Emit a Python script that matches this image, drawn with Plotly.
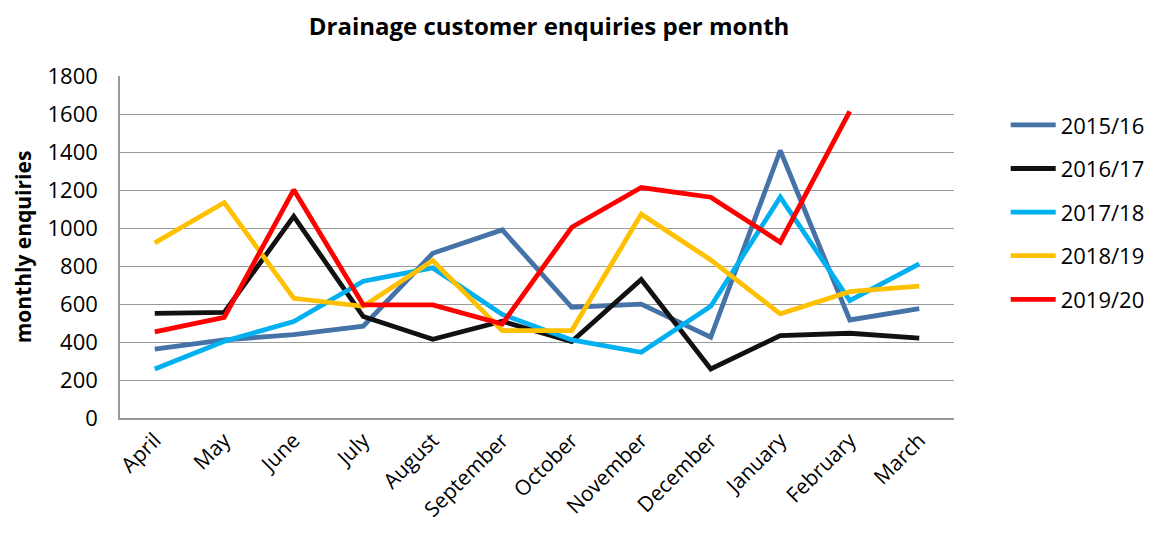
import plotly.graph_objects as go

months = ["April", "May", "June", "July", "August", "September", "October",
          "November", "December", "January", "February", "March"]

s2015_16 = [362, 411, 439, 483, 867, 990, 583, 599, 425, 1408, 516, 576]
s2016_17 = [551, 556, 1061, 534, 414, 509, 402, 729, 258, 434, 446, 420]
s2017_18 = [258, 404, 508, 720, 790, 545, 411, 346, 588, 1162, 618, 811]
s2018_19 = [922, 1134, 630, 588, 829, 460, 460, 1073, 832, 548, 665, 694]
s2019_20 = [453, 530, 1201, 595, 595, 495, 1004, 1213, 1162, 925, 1614, None]

series = [
    ("2015/16", s2015_16, "#4572A7"),
    ("2016/17", s2016_17, "#111111"),
    ("2017/18", s2017_18, "#00B0F0"),
    ("2018/19", s2018_19, "#FFC000"),
    ("2019/20", s2019_20, "#FF0000"),
]

fig = go.Figure()
for name, vals, col in series:
    fig.add_trace(go.Scatter(x=months, y=vals, name=name, mode="lines",
                             legendgroup=name,
                             line=dict(color=col, width=4.8)))

font_family = "Open Sans, Liberation Sans, sans-serif"
fig.update_layout(
    width=1148, height=527,
    margin=dict(l=112, r=202, t=68, b=117, autoexpand=False),
    paper_bgcolor="white", plot_bgcolor="white",
    font=dict(family=font_family, color="black"),
    title=dict(text="<b>Drainage customer enquiries per month</b>",
               x=0.4713, xanchor="center", y=0.965, yanchor="middle",
               font=dict(size=24, family=font_family, color="black")),
    showlegend=True,
    legend=dict(x=1.062, xanchor="left", y=0.602, yanchor="middle",
                font=dict(size=22, family=font_family, color="black"),
                tracegroupgap=12, itemwidth=45, bgcolor="rgba(0,0,0,0)"),
    xaxis=dict(type="category", range=[-0.5, 11.5], showgrid=False,
               showline=True, linecolor="#999999", linewidth=1.5,
               tickangle=-45, tickfont=dict(size=21, family=font_family),
               ticks="", zeroline=False, automargin=False),
    yaxis=dict(range=[0, 1800], dtick=200, showgrid=True,
               gridcolor="#999999", gridwidth=1.3,
               showline=True, linecolor="#999999", linewidth=1.5,
               tickfont=dict(size=22, family=font_family),
               ticklabelstandoff=16, zeroline=False, automargin=False,
               title=dict(text="<b>monthly enquiries</b>", standoff=10,
                          font=dict(size=21, family=font_family))),
)

fig.write_html("out.html")
